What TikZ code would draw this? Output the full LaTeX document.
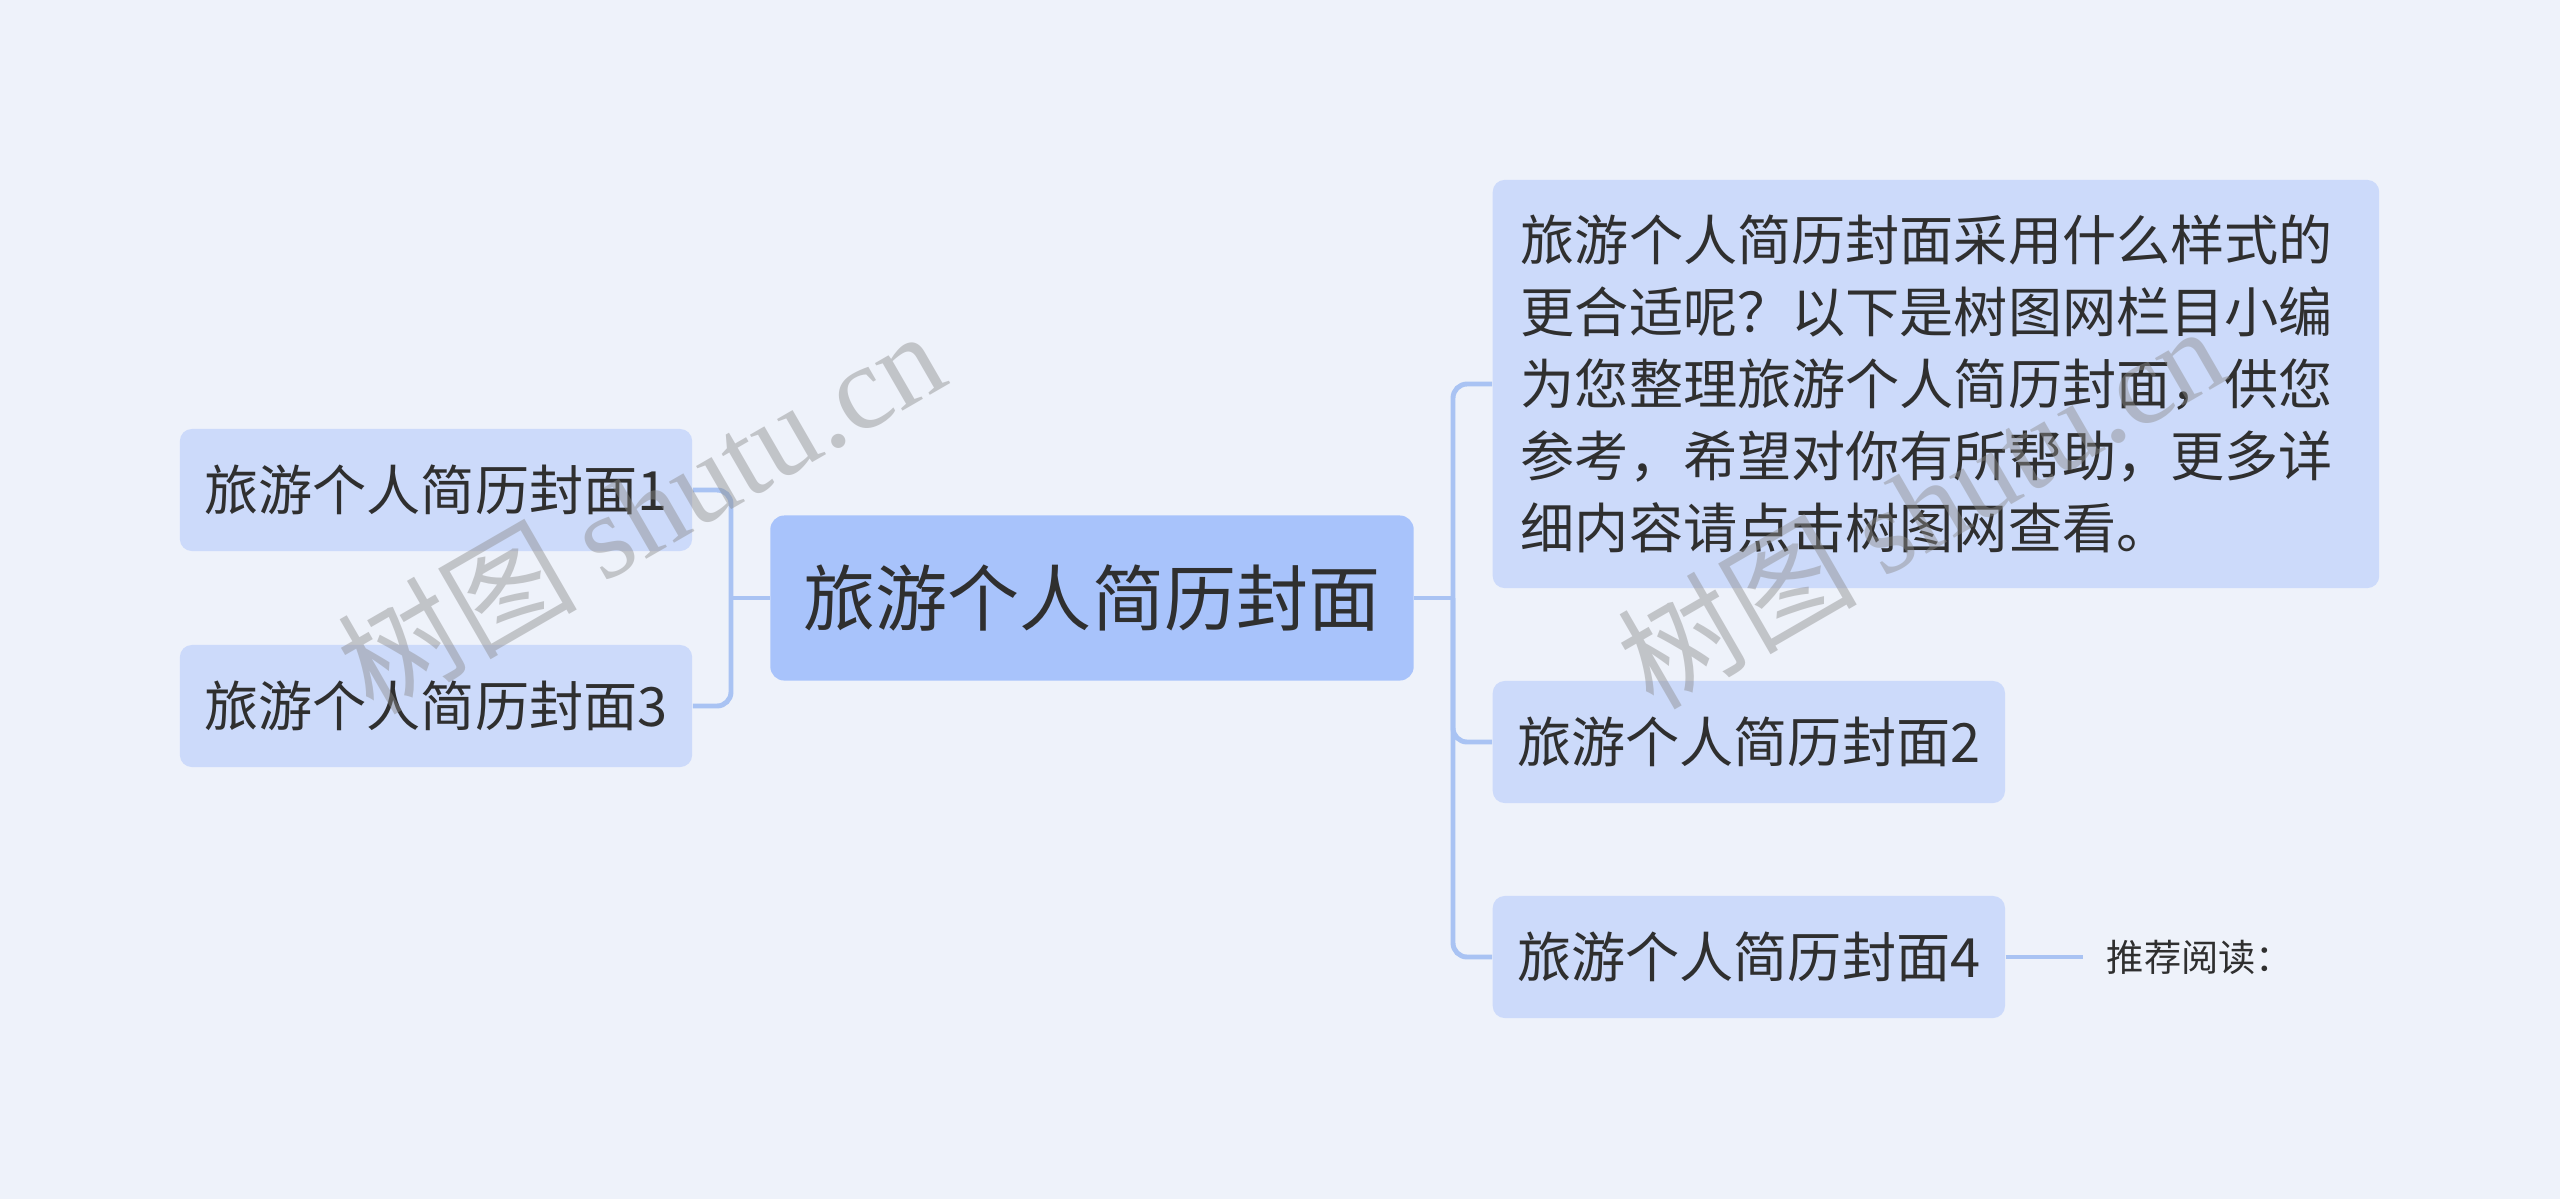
\documentclass[tikz,border=0pt]{standalone}
\usepackage{fontspec}
\setmainfont{Noto Sans CJK SC}
\newfontfamily\wmfont{Liberation Serif}
\definecolor{bg}{HTML}{EEF2FA}
\definecolor{rootblue}{HTML}{A8C3FB}
\definecolor{topicblue}{HTML}{CCDAFA}
\definecolor{linkblue}{HTML}{A9C3F3}
\definecolor{ink}{HTML}{2F2F2F}

\begin{document}
\begin{tikzpicture}[x=0.01cm,y=-0.01cm,
	root/.style={rectangle,rounded corners=0.14cm,fill=rootblue,text=ink,font=\fontsize{20.5pt}{24pt}\selectfont,minimum width=6.43cm,minimum height=1.65cm},
	topic/.style={rectangle,rounded corners=0.12cm,fill=topicblue,text=ink,font=\fontsize{15.4pt}{20.5pt}\selectfont,minimum width=5.12cm,minimum height=1.22cm},
	link/.style={draw=linkblue,line width=1.4pt,rounded corners=0.14cm},
	watermark/.style={text=black!45,text opacity=0.45,font=\fontsize{34pt}{34pt}\selectfont,rotate=30}
]

	\fill[bg] (0,0) rectangle (2560,1199);
	\useasboundingbox (0,0) rectangle (2560,1199);

	\node[root] (root) at (1092,598) {旅游个人简历封面};

	\node[topic] (t1) at (436,490) {旅游个人简历封面1};
	\node[topic] (t3) at (436,706) {旅游个人简历封面3};

	\node[topic,anchor=west,text width=8.3cm,inner xsep=0.28cm,align=left,minimum height=4.08cm] (note) at (1492,384)
		{旅游个人简历封面采用什么样式的\\更合适呢？以下是树图网栏目小编\\为您整理旅游个人简历封面，供您\\参考，希望对你有所帮助，更多详\\细内容请点击树图网查看。};
	\node[topic,anchor=west] (t2) at (1492,742) {旅游个人简历封面2};
	\node[topic,anchor=west] (t4) at (1492,957) {旅游个人简历封面4};

	\node[anchor=west,inner xsep=0.23cm,text=ink,font=\fontsize{10.6pt}{12pt}\selectfont] (rec) at (2083,957) {推荐阅读：};

	\coordinate (lj) at (731,598);
	\coordinate (rj) at (1453,598);

	% left branch
	\draw[link] (root.west) -- (lj);
	\draw[link] (t1.east) -| (lj) |- (t3.east);

	% right branch
	\draw[link] (root.east) -- (rj);
	\draw[link] (note.west) -| (rj) |- (t4.west);
	\draw[link] (rj) |- (t2.west);
	\draw[link] (t4.east) -- (rec.west);

	\node[watermark] (wm1) at (640,510) {树图 {\wmfont shutu.cn}};
	\node[watermark] (wm2) at (1920,505) {树图 {\wmfont shutu.cn}};

\end{tikzpicture}
\end{document}
